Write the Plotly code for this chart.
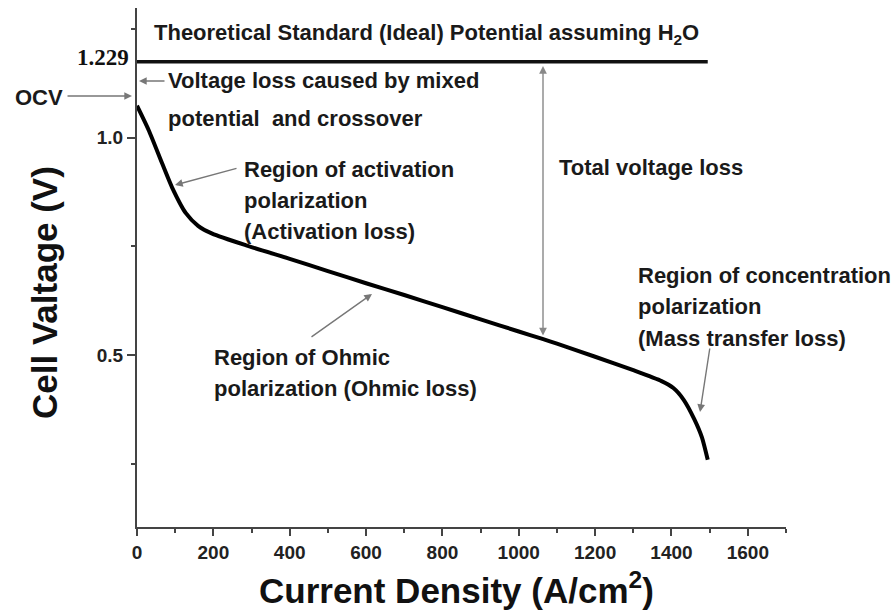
import plotly.graph_objects as go

# ---- data ----
current_density = [0, 31, 66, 92, 128, 160, 197, 286, 400, 500, 600, 700, 800, 900, 1000, 1062,
                   1100, 1200, 1300, 1374, 1405, 1432, 1460, 1480, 1495]
cell_voltage = [1.073, 1.016, 0.94, 0.885, 0.826, 0.797, 0.779, 0.752, 0.721, 0.693, 0.665, 0.638,
                0.610, 0.582, 0.554, 0.537, 0.526, 0.496, 0.465, 0.440, 0.424, 0.397, 0.352, 0.31, 0.259]

ideal_line_x = [0, 1495]
ideal_line_level = 1.174          # where the line is drawn in the picture
ideal_label = "1.229"

x_ticks = [0, 200, 400, 600, 800, 1000, 1200, 1400, 1600]
y_ticks = [0.5, 1.0]
y_tick_labels = ["0.5", "1.0"]

# ---- figure geometry ----
W, H = 893, 613
ML, MR, MT, MB = 137, 107, 8, 86
PW, PH = W - ML - MR, H - MT - MB
XR = [0, 1700]
Y_PER_PX = 1 / 435.0
YR = [1 + (137.5 - 527) * Y_PER_PX, 1 + (137.5 - 8) * Y_PER_PX]


def ppx(px):
    return (px - ML) / PW


def ppy(py):
    return (H - MB - py) / PH


fig = go.Figure()

fig.add_trace(go.Scatter(
    x=ideal_line_x, y=[ideal_line_level] * len(ideal_line_x),
    mode="lines", line=dict(color="#111", width=3.5), hoverinfo="skip", showlegend=False,
))
fig.add_trace(go.Scatter(
    x=current_density, y=cell_voltage, mode="lines",
    line=dict(color="#000", width=4, shape="spline", smoothing=0.6),
    showlegend=False,
))

FAM = "Liberation Sans, Arial, sans-serif"
TXT = dict(family=FAM, size=22, color="#1a1a1a", weight="bold")
annotations = []


def text(s, px, py, anchor="left", font=None):
    annotations.append(dict(
        text=s, x=ppx(px), y=ppy(py), xref="paper", yref="paper", xanchor=anchor, yanchor="middle",
        showarrow=False, font=font or TXT,
    ))


def arrow(tip, tail, both=False, color="#777"):
    annotations.append(dict(
        text="", x=ppx(tip[0]), y=ppy(tip[1]), ax=tail[0] - tip[0], ay=tail[1] - tip[1],
        xref="paper", yref="paper", axref="pixel", ayref="pixel", showarrow=True,
        arrowhead=2, arrowsize=1.1, arrowwidth=1.4, arrowcolor=color,
        arrowside="end+start" if both else "end",
        startarrowhead=2, startarrowsize=1.1,
    ))


text("Theoretical Standard (Ideal) Potential assuming H<sub>2</sub>O", 152, 34)
text(ideal_label, 131, 58, anchor="right",
     font=dict(family="Liberation Serif, Times New Roman, serif", size=23, color="#111", weight="bold"))
text("OCV", 13, 97)
text("Voltage loss caused by mixed", 166, 81)
text("potential  and crossover", 166, 118)
text("Region of activation", 242, 169)
text("polarization", 242, 200)
text("(Activation loss)", 242, 231)
text("Total voltage loss", 557, 167)
text("Region of Ohmic", 212, 357)
text("polarization (Ohmic loss)", 212, 388)
text("Region of concentration", 636, 275)
text("polarization", 636, 306)
text("(Mass transfer loss)", 636, 338)

arrow((132, 96), (66, 96))
arrow((139, 81), (166, 81))
arrow((175, 185), (238, 168))
arrow((372, 294), (310, 338))
arrow((700, 412), (710, 347))
arrow((543, 66), (543, 337), both=True, color="#888")

# axis titles
TITLE = dict(family=FAM, size=35, color="#111", weight="bold")
annotations.append(dict(text="Current Density (A/cm<sup>2</sup>)", x=ppx(456), y=ppy(588),
                        xref="paper", yref="paper", xanchor="center", yanchor="middle",
                        showarrow=False, font=TITLE))
annotations.append(dict(text="Cell Valtage (V)", x=ppx(44), y=ppy(293),
                        xref="paper", yref="paper", xanchor="center", yanchor="middle",
                        showarrow=False, textangle=-90, font=TITLE))

TICKFONT = dict(family=FAM, size=19, color="#222", weight="bold")
fig.update_layout(
    width=W, height=H, margin=dict(l=ML, r=MR, t=MT, b=MB),
    paper_bgcolor="white", plot_bgcolor="white",
    annotations=annotations, showlegend=False,
    xaxis=dict(range=XR, tickvals=x_ticks, ticktext=[str(v) for v in x_ticks],
               showgrid=False, zeroline=False, showline=True, linecolor="#444", linewidth=2,
               ticks="outside", ticklen=7, tickwidth=2, tickcolor="#444", tickfont=TICKFONT,
               minor=dict(dtick=100, tick0=0, ticks="outside", ticklen=4, tickwidth=1.5, tickcolor="#444")),
    yaxis=dict(range=YR, tickvals=y_ticks, ticktext=y_tick_labels,
               showgrid=False, zeroline=False, showline=True, linecolor="#444", linewidth=2,
               ticks="outside", ticklen=8, tickwidth=2, tickcolor="#444", tickfont=TICKFONT,
               minor=dict(dtick=0.25, tick0=0, ticks="outside", ticklen=4, tickwidth=1.5, tickcolor="#444")),
)

fig.write_html("out.html")
